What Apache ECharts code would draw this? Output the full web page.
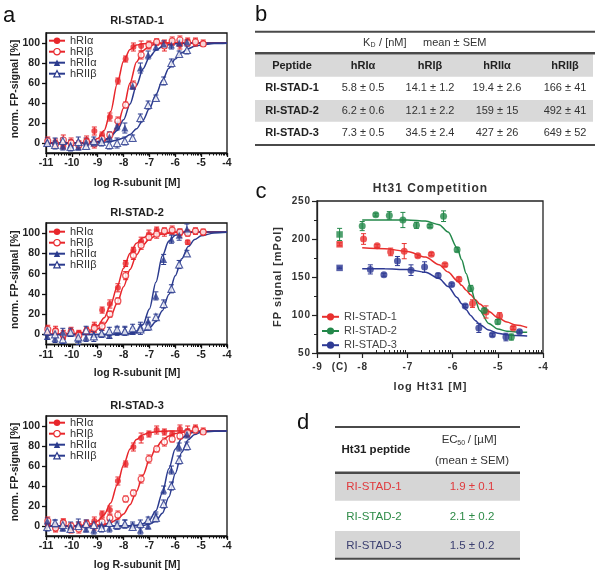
<!DOCTYPE html>
<html><head><meta charset="utf-8">
<script src="https://cdn.jsdelivr.net/npm/echarts@6/dist/echarts.min.js"></script>
<style>html,body{margin:0;padding:0;background:#fff}#c{width:600px;height:575px}</style>
</head><body><div id="c"></div>
<script>
// ===================== DATA =====================
// Panel a: concentrations (log M)
const aX_RI  = [-10.93,-10.63,-10.33,-10.03,-9.73,-9.43,-9.13,-8.83,-8.53,-8.22,-7.92,-7.62,-7.32,-7.02,-6.72,-6.42,-6.12,-5.82,-5.52,-5.22,-4.92];
const aX_RII = [-10.95,-10.65,-10.35,-10.05,-9.75,-9.45,-9.15,-8.85,-8.55,-8.25,-7.95,-7.65,-7.35,-7.05,-6.75,-6.45,-6.15,-5.85,-5.55];
const aCurveX = [-11,-10,-9.5,-9.25,-9,-8.75,-8.5,-8.25,-8,-7.75,-7.5,-7.25,-7,-6.75,-6.5,-6.25,-6,-5.75,-5.5,-5.25,-5,-4.5,-4];
const aSeriesNames = ['hRIα','hRIβ','hRIIα','hRIIβ'];
const aTitles = ['RI-STAD-1','RI-STAD-2','RI-STAD-3'];
const aYTicks = [0,20,40,60,80,100];

// RI-STAD-1 points (norm. FP-signal %)
const a1_RIa  = [1,0,-3,1,-1,3,12,8,26,62,84,96,97,98,101,99,101,98,102,101,100];
const a1_RIb  = [2,-1,3,0,-2,1,-1,4,8,22,38,58,88,98,101,97,102,103,100,101,99];
const a1_RIIa = [1,2,-3,-2,-4,1,0,3,6,17,15,57,75,88,96,99,98,100,101];
const a1_RIIb = [0,-2,2,-4,1,-3,2,1,-2,0,2,5,25,38,45,62,80,89,93];
const a1_RIa_e  = [3,4,3,4,3,4,4,3,4,3,3,4,5,4,3,4,3,4,3,4,3];
const a1_RIb_e  = [4,3,5,3,4,3,4,3,3,4,3,4,4,3,3,5,4,4,3,3,2];
const a1_RIIa_e = [4,3,4,5,3,4,3,4,5,4,5,3,5,4,3,3,4,3,2];
const a1_RIIb_e = [3,4,3,4,5,3,4,4,4,5,4,3,4,4,3,4,4,3,4];
const a1_fitRIa  = [0,0,0.5,1.4,4.4,12.6,31.4,59,82,93.5,97.9,99.3,99.8,100,100,100,100,100,100,100,100,100,100];
const a1_fitRIb  = [0,0,0.1,0.3,0.8,2.3,6.3,16,35,60,81,92.3,97.1,98.9,99.6,100,100,100,100,100,100,100,100];
const a1_fitRIIa = [0,0.1,0.3,0.7,1.5,3.1,6.3,12.5,23.2,39,57.4,74,85.8,92.7,96.4,98.2,99.2,99.6,99.8,100,100,100,100];
const a1_fitRIIb = [0,0,0.2,0.3,0.5,0.9,1.6,2.9,5,8.5,14.2,22.8,34.4,48.3,62.4,74.7,84,90.3,94.3,96.7,98.1,99.4,99.8];

// RI-STAD-2
const a2_RIa  = [2,4,-2,3,1,4,8,24,30,46,70,83,92,99,103,101,102,100,91,102,101];
const a2_RIb  = [5,3,0,2,-1,3,6,8,20,33,58,78,88,96,99,102,103,101,100,102,101];
const a2_RIIa = [-2,-4,2,1,-5,-3,0,1,-1,3,4,3,8,13,38,74,94,98,104];
const a2_RIIb = [3,0,-5,2,-3,4,-2,1,3,5,3,6,5,8,17,30,45,69,80];
const a2_RIa_e  = [3,4,3,4,3,3,4,3,4,4,3,3,4,4,3,4,3,4,2,3,3];
const a2_RIb_e  = [4,3,4,3,4,3,4,4,3,3,4,4,4,3,4,3,4,3,3,3,2];
const a2_RIIa_e = [3,4,4,3,5,4,3,4,3,4,4,3,4,4,4,5,4,5,5];
const a2_RIIb_e = [4,3,4,4,3,4,5,3,4,3,4,4,5,4,3,4,4,4,3];
const a2_fitRIa  = [0,0.5,2,4.2,8.4,16.3,29.3,46.8,65.2,80.2,89.9,95.5,98.3,99.6,100.3,100.7,101,101,101,101,101,101,101];
const a2_fitRIb  = [0,0.35,1.4,2.7,5.3,10,18.1,30.7,47,64,78.4,88.2,94.2,97.5,99.2,100,100.5,100.8,101,101,101,101,101];
const a2_fitRIIa = [0,0,0,0,0,0,0,0.1,0.3,1,3.3,9.6,25.1,51.5,77.6,92.2,97.9,100.2,100.8,101,101,101,101];
const a2_fitRIIb = [0,0,0,0,0,0,0.1,0.2,0.3,0.7,1.5,3.1,6.4,12.6,23.4,39.4,58,74.7,86.7,93.6,97.3,100.2,100.8];

// RI-STAD-3
const a3_RIa  = [2,-2,4,-3,1,3,5,12,16,45,62,79,88,92,96,94,92,97,95,98,95];
const a3_RIb  = [5,-2,3,0,-3,2,0,4,8,11,27,33,47,67,77,84,87,90,93,96,94];
const a3_RIIa = [5,2,-2,0,2,-3,-4,1,-2,0,2,1,-4,0,10,36,56,79,92];
const a3_RIIb = [-1,3,1,-3,0,2,1,-2,3,1,2,-1,2,6,8,22,40,66,80];
const a3_RIa_e  = [3,4,3,4,3,3,4,3,4,4,3,4,5,3,4,3,3,4,5,3,3];
const a3_RIb_e  = [4,3,4,3,4,3,4,4,3,4,3,3,4,4,3,4,3,3,4,3,2];
const a3_RIIa_e = [3,4,3,4,5,3,4,3,4,3,4,3,4,3,4,4,4,4,4];
const a3_RIIb_e = [4,3,4,3,4,4,3,4,3,4,4,3,4,3,4,4,4,4,4];
const a3_fitRIa  = [0,0.2,0.9,2.2,5.1,11.3,23,41,61,77,86.4,91.2,93.4,94.3,94.7,95,95,95,95,95,95,95,95];
const a3_fitRIb  = [0,0.05,0.2,0.4,0.9,1.7,3.3,6.4,12,21.3,34.7,50.8,66.2,77.9,85.6,90,92.5,93.8,94.4,94.7,94.9,95,95];
const a3_fitRIIa = [0,0,0,0,0,0,0,0,0.1,0.3,0.8,2.2,6,15.2,33.2,57.2,77,87.7,92.3,94,94.6,95,95];
const a3_fitRIIb = [0,0,0,0,0,0,0,0,0,0.1,0.2,0.7,1.8,4.9,12.7,28.9,52.5,73.8,86.2,91.6,93.8,94.8,95];

// Panel b table
const tabB_title = 'mean ± SEM';
const tabB_cols = ['hRIα','hRIβ','hRIIα','hRIIβ'];
const tabB_peptides = ['RI-STAD-1','RI-STAD-2','RI-STAD-3'];
const tabB_row1 = ['5.8 ± 0.5','14.1 ± 1.2','19.4 ± 2.6','166 ± 41'];
const tabB_row2 = ['6.2 ± 0.6','12.1 ± 2.2','159 ± 15','492 ± 41'];
const tabB_row3 = ['7.3 ± 0.5','34.5 ± 2.4','427 ± 26','649 ± 52'];

// Panel c: Ht31 competition (FP signal, mPol)
const cNames = ['RI-STAD-1','RI-STAD-2','RI-STAD-3'];
const cX1 = [-7.97,-7.67,-7.37,-7.07,-6.77,-6.47,-6.17,-5.86,-5.56,-5.26,-4.96,-4.66];
const cX2 = [-8.0,-7.7,-7.4,-7.1,-6.8,-6.5,-6.2,-5.9,-5.6,-5.3,-5.0,-4.7];
const cX3 = [-7.82,-7.52,-7.22,-6.92,-6.62,-6.32,-6.02,-5.72,-5.42,-5.12,-4.82,-4.52];
const cY1 = [200,191,183,184,178,180,166,147,115,104,99,83];
const cY2 = [217,232,231,225,218,217,230,186,135,106,91,71];
const cY3 = [160,153,171,159,163,152,140,112,83,74,71,78];
const cE1 = [7,2,5,10,2,2,2,3,5,8,4,2];
const cE2 = [6,2,5,10,4,2,7,3,4,3,3,4];
const cE3 = [6,2,6,7,7,3,2,2,6,2,5,2];
const cCtrlX = -8.5;
const cCtrlY = [193,206,162];
const cCtrlE = [2,8,1];
const cCurveX = [-8,-7.5,-7,-6.6,-6.3,-6.1,-5.9,-5.8,-5.7,-5.6,-5.5,-5.4,-5.2,-5.0,-4.8,-4.6,-4.35];
const cFit1 = [188.4,187.2,183.5,176.2,166.1,156.6,145.2,139,132.7,126.5,120.4,114.6,104.6,96.6,90.8,86.7,83.5];
const cFit2 = [225,225,225,223.6,218.9,209.2,188.4,172.8,154.7,136.2,119.4,105.9,88.9,81.6,78.7,77.6,77.2];
const cFit3 = [161,160.8,159.9,156.2,148,137.6,123,114.9,106.8,99.4,92.9,87.6,80.2,76.1,74,72.9,72.4];
const cXTicks = [-9,-8.5,-8,-7,-6,-5,-4];

// Panel d table
const tabD_names = ['RI-STAD-1','RI-STAD-2','RI-STAD-3'];
const tabD_vals = ['1.9 ± 0.1','2.1 ± 0.2','1.5 ± 0.2'];

// ===================== STYLE =====================
const FONT = '"Liberation Sans", Arial, Helvetica, sans-serif';
const RED = '#e8262b', BLUE = '#2b3b8e';
const C_COL = ['#e8302e', '#23884a', '#2e3a94'];
const D_COL = ['#e0393c', '#2e8b47', '#3b3f70'];
const aMeta = [
  {color: RED, symbol: 'circle', open: false, size: 6},
  {color: RED, symbol: 'circle', open: true, size: 6},
  {color: BLUE, symbol: 'triangle', open: false, size: 7},
  {color: BLUE, symbol: 'triangle', open: true, size: 7}
];
const aGrid = [{top: 33, h: 120}, {top: 223, h: 121.5}, {top: 416, h: 120}];
const aLegendTop = [35.2, 226.2, 417.2];
const aTitleY = [21, 213, 406];
const aXNameY = [183, 373, 565];

const aPanels = [
  {pts: [a1_RIa, a1_RIb, a1_RIIa, a1_RIIb], err: [a1_RIa_e, a1_RIb_e, a1_RIIa_e, a1_RIIb_e], fit: [a1_fitRIa, a1_fitRIb, a1_fitRIIa, a1_fitRIIb]},
  {pts: [a2_RIa, a2_RIb, a2_RIIa, a2_RIIb], err: [a2_RIa_e, a2_RIb_e, a2_RIIa_e, a2_RIIb_e], fit: [a2_fitRIa, a2_fitRIb, a2_fitRIIa, a2_fitRIIb]},
  {pts: [a3_RIa, a3_RIb, a3_RIIa, a3_RIIb], err: [a3_RIa_e, a3_RIb_e, a3_RIIa_e, a3_RIIb_e], fit: [a3_fitRIa, a3_fitRIb, a3_fitRIIa, a3_fitRIIb]}
];

function zip2(xs, ys) { return xs.map((x, i) => [x, ys[i]]); }
function zip3(xs, ys, es) { return xs.map((x, i) => [x, ys[i], es[i]]); }
function sp(s) { return s.split('').join('\u200A'); }

function errRender(params, api) {
  const x = api.value(0), y = api.value(1), e = api.value(2);
  const p1 = api.coord([x, y - e]), p2 = api.coord([x, y + e]);
  const w = 2.5;
  const st = {stroke: api.visual('color'), lineWidth: 1};
  return {type: 'group', children: [
    {type: 'line', shape: {x1: p1[0], y1: p1[1], x2: p2[0], y2: p2[1]}, style: st},
    {type: 'line', shape: {x1: p1[0] - w, y1: p1[1], x2: p1[0] + w, y2: p1[1]}, style: st},
    {type: 'line', shape: {x1: p2[0] - w, y1: p2[1], x2: p2[0] + w, y2: p2[1]}, style: st}
  ]};
}

const minorA = [];
for (let d = -11; d < -4; d++) for (let k = 2; k <= 9; k++) minorA.push(d + Math.log10(k));
const minorC = [];
for (let d = -8; d < -4; d++) for (let k = 2; k <= 9; k++) minorC.push(d + Math.log10(k));

const grid = [], xAxis = [], yAxis = [], series = [], legend = [];
const AX = {color: '#111', width: 1.3};
const tickLbl = {fontFamily: FONT, fontWeight: 'bold', fontSize: 10.5, color: '#222'};

// ----- panel a -----
aPanels.forEach((p, k) => {
  grid.push({left: 46, top: aGrid[k].top, width: 181, height: aGrid[k].h, show: true, borderColor: '#111', borderWidth: 1.3, backgroundColor: 'transparent'});
  xAxis.push({type: 'value', gridIndex: k, min: -11, max: -4, interval: 1, position: 'bottom',
    axisLine: {show: true, onZero: false, lineStyle: AX},
    axisTick: {show: true, length: 4, lineStyle: AX},
    axisLabel: Object.assign({margin: 5}, tickLbl), splitLine: {show: false}});
  yAxis.push({type: 'value', gridIndex: k, min: -10, max: 110,
    axisLine: {show: true, onZero: false, lineStyle: AX},
    axisTick: {show: true, length: 4, lineStyle: AX, customValues: aYTicks},
    axisLabel: Object.assign({margin: 6, customValues: aYTicks}, tickLbl), splitLine: {show: false}});
  legend.push({left: 48, top: aLegendTop[k], orient: 'vertical', padding: 0, itemGap: 0, itemWidth: 16, itemHeight: 8,
    selectedMode: false, textStyle: {fontFamily: FONT, fontSize: 11, lineHeight: 11, color: '#333'},
    data: aSeriesNames.map((n, i) => aMeta[i].open ? {name: n, itemStyle: {color: '#fff', borderColor: aMeta[i].color, borderWidth: 1.2}} : {name: n})});
  aSeriesNames.forEach((n, i) => {
    const m = aMeta[i];
    const item = m.open ? {color: '#fff', borderColor: m.color, borderWidth: 1.2} : {color: m.color, borderColor: m.color, borderWidth: 0};
    series.push({type: 'line', name: n, xAxisIndex: k, yAxisIndex: k, data: zip2(aCurveX, p.fit[i]),
      smooth: 0.3, smoothMonotone: 'x', showSymbol: false, symbol: m.symbol, symbolSize: m.size,
      lineStyle: {color: m.color, width: 1.5}, itemStyle: item, z: 2, silent: true});
  });
  aSeriesNames.forEach((n, i) => {
    const xs = i < 2 ? aX_RI : aX_RII;
    series.push({type: 'custom', name: 'err_' + k + '_' + i, xAxisIndex: k, yAxisIndex: k,
      data: zip3(xs, p.pts[i], p.err[i]), renderItem: errRender, encode: {x: 0, y: 1},
      itemStyle: {color: aMeta[i].color}, z: 3, silent: true});
  });
  aSeriesNames.forEach((n, i) => {
    const m = aMeta[i];
    const xs = i < 2 ? aX_RI : aX_RII;
    const item = m.open ? {color: '#fff', borderColor: m.color, borderWidth: 1.2} : {color: m.color};
    series.push({type: 'scatter', name: n, xAxisIndex: k, yAxisIndex: k, data: zip2(xs, p.pts[i]),
      symbol: m.symbol, symbolSize: m.size, itemStyle: item, z: 4, silent: true});
  });
});
// minor log ticks for panel a
aPanels.forEach((p, k) => {
  xAxis.push({type: 'value', gridIndex: k, min: -11, max: -4, position: 'bottom', offset: 0,
    axisLine: {show: false, onZero: false}, axisLabel: {show: false}, splitLine: {show: false},
    axisTick: {show: true, length: 2.5, lineStyle: {color: '#111', width: 1}, customValues: minorA}});
});

// ----- panel c -----
const gc = 3;
grid.push({left: 317, top: 201, width: 226, height: 152, show: true, borderColor: '#222', borderWidth: 1.3, backgroundColor: 'transparent'});
const xcIdx = xAxis.length;
xAxis.push({type: 'value', gridIndex: gc, min: -9, max: -4, position: 'bottom',
  axisLine: {show: true, onZero: false, lineStyle: {color: '#222', width: 1.3}},
  axisTick: {show: true, length: 5, lineStyle: {color: '#222', width: 1.2}, customValues: cXTicks},
  axisLabel: {customValues: cXTicks, margin: 9, fontFamily: FONT, fontWeight: 'bold', fontSize: 10, color: '#333',
    formatter: v => (Math.abs(v + 8.5) < 1e-6 ? sp('(C)') : sp(String(v)))},
  splitLine: {show: false}});
xAxis.push({type: 'value', gridIndex: gc, min: -9, max: -4, position: 'bottom', offset: 0,
  axisLine: {show: false, onZero: false}, axisLabel: {show: false}, splitLine: {show: false},
  axisTick: {show: true, inside: true, length: 3, lineStyle: {color: '#222', width: 1}, customValues: minorC}});
yAxis.push({type: 'value', gridIndex: gc, min: 50, max: 250, interval: 50,
  axisLine: {show: true, onZero: false, lineStyle: {color: '#222', width: 1.3}},
  axisTick: {show: true, length: 5, lineStyle: {color: '#222', width: 1.2}},
  minorTick: {show: true, splitNumber: 2, length: 3, lineStyle: {color: '#222', width: 1}},
  axisLabel: {margin: 7, fontFamily: FONT, fontWeight: 'bold', fontSize: 10, color: '#333', formatter: v => sp(String(v))},
  splitLine: {show: false}, minorSplitLine: {show: false}});
legend.push({left: 321, top: 309.7, orient: 'vertical', padding: 0, itemGap: 0, itemWidth: 17, itemHeight: 9,
  selectedMode: false, textStyle: {fontFamily: FONT, fontSize: 11, lineHeight: 14.2, color: '#444'}, data: cNames});
const cXs = [cX1, cX2, cX3], cYs = [cY1, cY2, cY3], cEs = [cE1, cE2, cE3], cFits = [cFit1, cFit2, cFit3];
cNames.forEach((n, i) => {
  series.push({type: 'line', name: n, xAxisIndex: xcIdx, yAxisIndex: gc, data: zip2(cCurveX, cFits[i]),
    smooth: 0.3, smoothMonotone: 'x', showSymbol: false, symbol: 'circle', symbolSize: 7,
    lineStyle: {color: C_COL[i], width: 1.5}, itemStyle: {color: C_COL[i]}, z: 2, silent: true});
});
cNames.forEach((n, i) => {
  series.push({type: 'custom', name: 'cerr' + i, xAxisIndex: xcIdx, yAxisIndex: gc,
    data: zip3(cXs[i], cYs[i], cEs[i]).concat([[cCtrlX, cCtrlY[i], cCtrlE[i]]]),
    renderItem: errRender, encode: {x: 0, y: 1}, itemStyle: {color: C_COL[i]}, z: 3, silent: true});
  series.push({type: 'scatter', name: n, xAxisIndex: xcIdx, yAxisIndex: gc, data: zip2(cXs[i], cYs[i]),
    symbol: 'circle', symbolSize: 7, itemStyle: {color: C_COL[i]}, z: 4, silent: true});
  series.push({type: 'scatter', name: 'ctrl' + i, xAxisIndex: xcIdx, yAxisIndex: gc, data: [[cCtrlX, cCtrlY[i]]],
    symbol: 'rect', symbolSize: 6.5, itemStyle: {color: C_COL[i]}, z: 4, silent: true});
});

// ----- graphic texts & tables -----
const G = [];
function txt(x, y, text, o) {
  o = o || {};
  const el = {type: 'text', x: x, y: y, rotation: o.rot || 0, silent: true, z: 10,
    style: {text: text, fill: o.color || '#222', font: (o.bold ? 'bold ' : '') + (o.size || 11) + 'px ' + FONT,
      align: o.align || 'center', verticalAlign: o.va || 'middle', textAlign: o.align || 'center', textVerticalAlign: o.va || 'middle'}};
  G.push(el);
}
function hline(x1, x2, y, w, c) { G.push({type: 'line', silent: true, z: 9, shape: {x1: x1, y1: y, x2: x2, y2: y}, style: {stroke: c || '#4a4a4a', lineWidth: w}}); }
function rect(x, y, w, h, c) { G.push({type: 'rect', silent: true, z: 8, shape: {x: x, y: y, width: w, height: h}, style: {fill: c}}); }

// panel letters
txt(9, 16.3, 'a', {size: 22, color: '#111'});
txt(261, 15, 'b', {size: 22, color: '#111'});
txt(261, 192, 'c', {size: 22, color: '#111'});
txt(303, 423, 'd', {size: 22, color: '#111'});

// panel a texts
aTitles.forEach((t, k) => {
  txt(137, aTitleY[k], t, {bold: true, size: 11});
  txt(137, aXNameY[k], 'log R-subunit [M]', {bold: true, size: 10.5});
  txt(15, aGrid[k].top + aGrid[k].h / 2 - 4, 'norm. FP-signal [%]', {bold: true, size: 10.5, rot: Math.PI / 2});
});

// panel b table
hline(255, 595, 31.7, 2);
txt(363, 42.5, 'K', {size: 11, align: 'left', color: '#333'});
txt(370.6, 45, 'D', {size: 7, align: 'left', color: '#333'});
txt(376, 42.5, ' / [nM]', {size: 11, align: 'left', color: '#333'});
txt(423, 42.5, tabB_title, {size: 11, align: 'left', color: '#333'});
hline(255, 595, 53.3, 2.5);
rect(255, 54.5, 338, 22.2, '#d9d9d9');
rect(255, 100, 338, 21.7, '#d9d9d9');
const bColX = [363, 430, 497, 565];
const bRowY = [88.3, 111, 133.3];
txt(292, 65.5, 'Peptide', {bold: true, size: 11, color: '#222'});
tabB_cols.forEach((c, j) => txt(bColX[j], 65.5, c, {bold: true, size: 11, color: '#222'}));
[tabB_row1, tabB_row2, tabB_row3].forEach((row, r) => {
  txt(292, bRowY[r], tabB_peptides[r], {bold: true, size: 11, color: '#222'});
  row.forEach((v, j) => txt(bColX[j], bRowY[r], v, {size: 11, color: '#333'}));
});
hline(255, 595, 145, 2);

// panel c texts
txt(430, 189, sp('Ht31 Competition'), {bold: true, size: 12, color: '#333'});
txt(430, 387, sp('log Ht31 [M]'), {bold: true, size: 11, color: '#333'});
txt(278, 277, sp('FP signal [mPol]'), {bold: true, size: 11, color: '#333', rot: Math.PI / 2});

// panel d table
hline(335, 520, 427, 2);
txt(376, 450, 'Ht31 peptide', {bold: true, size: 11.5, color: '#222'});
txt(441.7, 440, 'EC', {size: 11.5, align: 'left', color: '#333'});
txt(457.3, 443, '50', {size: 7, align: 'left', color: '#333'});
txt(464.5, 440, ' / [µM]', {size: 11.5, align: 'left', color: '#333'});
txt(472, 461, '(mean ± SEM)', {size: 11.5, color: '#333'});
hline(335, 520, 472.7, 2.5);
rect(335, 474, 185, 26.7, '#d6d6d6');
rect(335, 531, 185, 27, '#d6d6d6');
const dRowY = [487, 516.7, 545.5];
tabD_names.forEach((n, r) => {
  txt(374, dRowY[r], n, {size: 11.5, color: D_COL[r]});
  txt(472, dRowY[r], tabD_vals[r], {size: 11.5, color: D_COL[r]});
});
hline(335, 520, 558.7, 2);

const chart = echarts.init(document.getElementById('c'), null, {renderer: 'canvas'});
chart.setOption({animation: false, backgroundColor: '#fff', grid, xAxis, yAxis, legend, series, graphic: {elements: G}});
</script></body></html>
